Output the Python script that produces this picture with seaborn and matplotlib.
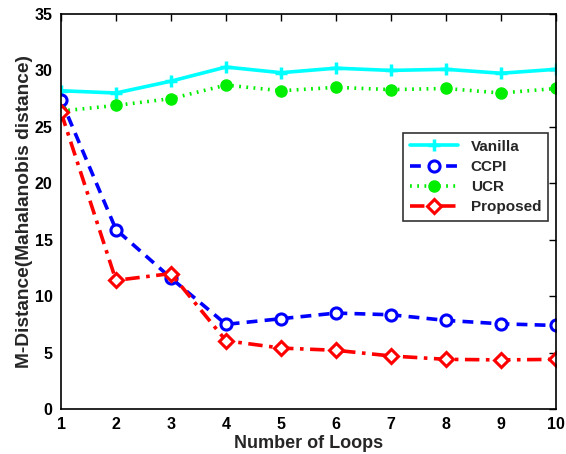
import matplotlib
matplotlib.use("Agg")
import matplotlib.pyplot as plt
import seaborn as sns
import pandas as pd

loops = [1, 2, 3, 4, 5, 6, 7, 8, 9, 10]
vanilla = [28.2, 28.0, 29.05, 30.3, 29.8, 30.2, 30.0, 30.1, 29.75, 30.1]
ccpi = [27.4, 15.9, 11.6, 7.5, 8.0, 8.5, 8.35, 7.85, 7.55, 7.4]
ucr = [26.4, 26.9, 27.5, 28.7, 28.2, 28.5, 28.3, 28.4, 28.0, 28.4]
proposed = [26.3, 11.4, 12.0, 6.05, 5.4, 5.2, 4.7, 4.4, 4.35, 4.4]
series_names = ["Vanilla", "CCPI", "UCR", "Proposed"]

sns.set_theme(style="white")
plt.rcParams["font.family"] = ["Liberation Sans", "DejaVu Sans"]
plt.rcParams["font.weight"] = "bold"

frames = []
for name, vals in zip(series_names, [vanilla, ccpi, ucr, proposed]):
    frames.append(pd.DataFrame({"loop": loops, "dist": vals, "method": name}))
df = pd.concat(frames, ignore_index=True)

styles = {
    "Vanilla": dict(color="#00FFFF", linestyle="-", marker="+", markersize=9,
                    markeredgewidth=2.5, markerfacecolor="#00FFFF", markeredgecolor="#00FFFF"),
    "CCPI": dict(color="#0000FF", linestyle=(0, (3, 2)), marker="o", markersize=8,
                 markeredgewidth=2.2, markerfacecolor="white", markeredgecolor="#0000FF"),
    "UCR": dict(color="#00EE00", linestyle=(0, (0.5, 1.5)), marker="o", markersize=8,
                markeredgewidth=1, markerfacecolor="#00EE00", markeredgecolor="#00EE00"),
    "Proposed": dict(color="#FF0000", linestyle=(0, (4, 1.8, 1, 1.8)), marker="D", markersize=7.5,
                     markeredgewidth=2.2, markerfacecolor="white", markeredgecolor="#FF0000"),
}

fig = plt.figure(figsize=(5.66, 4.54), dpi=100)
ax = fig.add_axes([61 / 566, 1 - 409 / 454, (556 - 61) / 566, (409 - 14) / 454])

for name in series_names:
    sub = df[df["method"] == name]
    sns.lineplot(data=sub, x="loop", y="dist", ax=ax, label=name, linewidth=2.6,
                 **styles[name])

ax.set_xlim(1, 10)
ax.set_ylim(0, 35)
ax.set_xticks(loops)
ax.set_yticks(range(0, 36, 5))
ax.tick_params(direction="in", length=5, width=1, top=True, right=True,
               labelsize=11.5, colors="black", pad=6)
for lbl in ax.get_xticklabels() + ax.get_yticklabels():
    lbl.set_fontweight("bold")
for sp in ax.spines.values():
    sp.set_color("black")
    sp.set_linewidth(1.2)

ax.set_xlabel("Number of Loops", fontsize=13, fontweight="bold", labelpad=2)
ax.set_ylabel("M-Distance(Mahalanobis distance)", fontsize=13.8, fontweight="bold", labelpad=1)

leg = ax.legend(loc="upper right", bbox_to_anchor=(0.984, 0.699), borderaxespad=0,
                frameon=True, fancybox=False, edgecolor="black", handlelength=3.2,
                borderpad=0.45, labelspacing=0.4, prop={"weight": "bold", "size": 11})
leg.get_frame().set_linewidth(1.2)

fig.savefig("out.png", dpi=100, facecolor="white")
